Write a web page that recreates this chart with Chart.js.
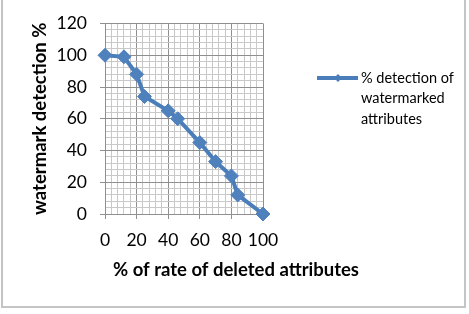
<!DOCTYPE html>
<html>
<head>
<meta charset="utf-8">
<script src="https://cdn.jsdelivr.net/npm/chart.js@4/dist/chart.umd.min.js"></script>
<style>
  html, body { margin: 0; padding: 0; background: #fff; }
  #wrap { position: relative; width: 469px; height: 314px; }
</style>
</head>
<body>
<div id="wrap"><canvas id="myChart"></canvas></div>
<script>
// % of rate of deleted attributes
var Borrado = [0, 12, 20, 25, 40, 46, 60, 70, 80, 84, 100]
// watermark detection %
var Deteccion = [100, 99, 88, 74, 65, 60, 45, 33, 24, 12, 0]

var TituloX = '% of rate of deleted attributes'
var TituloY = 'watermark detection %'
var Leyenda = ['% detection of', 'watermarked', 'attributes']

var azul = '#4a7ebb'
var gridMayor = '#8f8f8f'
var gridMenor = '#c9c9c9'

var puntos = Borrado.map(function (x, i) { return { x: x, y: Deteccion[i] } })

function colorGrid(c) {
    return c.tick && c.tick.value % 20 === 0 ? gridMayor : gridMenor
}
function colorTick(c) {
    return c.tick && c.tick.value % 20 === 0 ? gridMayor : 'rgba(0,0,0,0)'
}
function etiqueta(v) {
    return v % 20 === 0 ? String(v) : ''
}

// marco, titulo del eje x y leyenda a mano
var extras = {
    id: 'extras',
    afterDraw: function (chart) {
        var ctx = chart.ctx
        ctx.save()
        ctx.strokeStyle = '#c4c4c4'
        ctx.lineWidth = 2
        ctx.strokeRect(2, -2, 463, 309)

        ctx.fillStyle = '#000'
        ctx.font = 'bold 18.5px Lato'
        ctx.textAlign = 'center'
        ctx.textBaseline = 'middle'
        ctx.fillText(TituloX, 236, 270)

        // leyenda
        ctx.strokeStyle = azul
        ctx.lineWidth = 4
        ctx.beginPath()
        ctx.moveTo(317, 78)
        ctx.lineTo(358, 78)
        ctx.stroke()
        ctx.fillStyle = azul
        ctx.beginPath()
        ctx.moveTo(338, 74)
        ctx.lineTo(342, 78)
        ctx.lineTo(338, 82)
        ctx.lineTo(334, 78)
        ctx.closePath()
        ctx.fill()

        ctx.fillStyle = '#000'
        ctx.font = '14.5px Lato'
        ctx.textAlign = 'left'
        for (var i = 0; i < Leyenda.length; i++) {
            ctx.fillText(Leyenda[i], 361, 78 + i * 20.5)
        }
        ctx.restore()
    }
}

var ctx = document.getElementById('myChart')
var chartData = {
    type: 'scatter',
    data: {
        datasets: [{
            label: Leyenda.join(' '),
            data: puntos,
            showLine: true,
            fill: false,
            clip: false,
            borderColor: azul,
            backgroundColor: azul,
            borderWidth: 4,
            pointStyle: 'rectRot',
            pointRadius: 7,
            pointBorderWidth: 1,
            pointBackgroundColor: '#4f81bd',
            pointBorderColor: '#4f81bd'
        }]
    },
    options: {
        responsive: true,
        maintainAspectRatio: false,
        animation: false,
        layout: { padding: { left: 0, right: 206, top: 15, bottom: 0 } },
        plugins: {
            legend: { display: false },
            tooltip: { enabled: false }
        },
        scales: {
            x: {
                type: 'linear',
                min: 0,
                max: 100,
                afterFit: function (s) { s.height = 100 },
                ticks: {
                    stepSize: 4,
                    autoSkip: false,
                    maxRotation: 0,
                    padding: 11,
                    color: '#000',
                    font: { family: 'Lato', size: 17.5 },
                    callback: etiqueta
                },
                grid: { color: colorGrid, tickColor: colorTick, tickLength: 5, lineWidth: 1 },
                border: { color: gridMayor, width: 1 }
            },
            y: {
                min: 0,
                max: 120,
                afterFit: function (s) { s.width = 105 },
                ticks: {
                    stepSize: 4,
                    autoSkip: false,
                    padding: 13,
                    color: '#000',
                    font: { family: 'Lato', size: 17.5 },
                    callback: etiqueta
                },
                grid: { color: colorGrid, tickColor: colorTick, tickLength: 5, lineWidth: 1 },
                border: { color: gridMayor, width: 1 },
                title: {
                    display: true,
                    text: TituloY,
                    color: '#000',
                    font: { family: 'Lato', size: 18.5, weight: 'bold' },
                    padding: { top: 29, bottom: 0 }
                }
            }
        }
    },
    plugins: [extras]
}
var myChart = new Chart(ctx, chartData)
</script>
</body>
</html>
